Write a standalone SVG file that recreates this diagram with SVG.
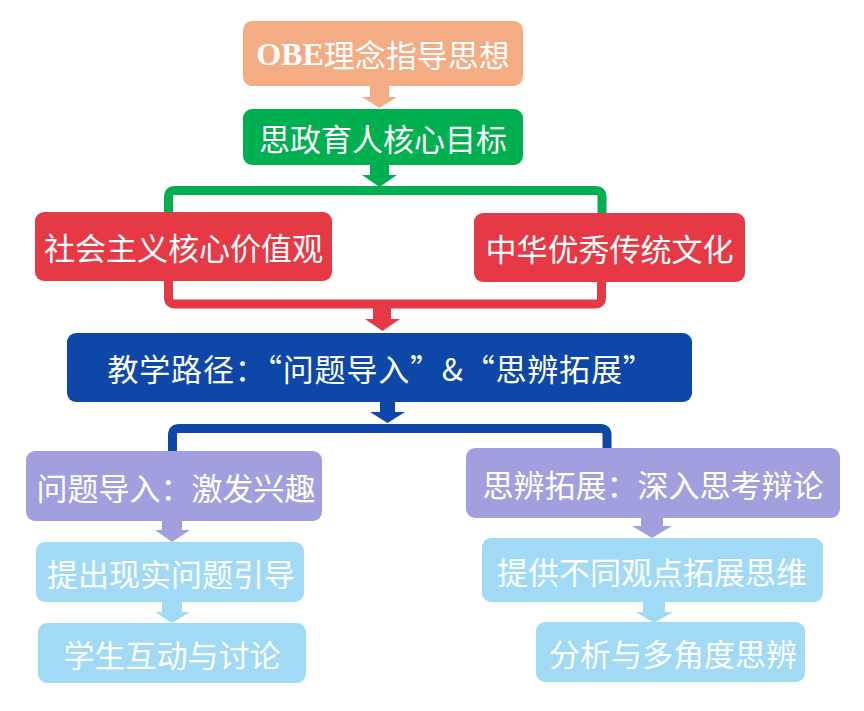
<svg xmlns="http://www.w3.org/2000/svg" width="864" height="711" viewBox="0 0 864 711">
<style>
text{font-family:"Noto Sans CJK SC","Liberation Sans",sans-serif;font-size:31px;fill:#fff;text-anchor:middle;dominant-baseline:central}
.br{fill:none;stroke-width:9;stroke-linejoin:round}
</style>
<rect width="864" height="711" fill="#fff"/>
<g id="connectors">
<polygon fill="#F4AC84" points="370,86 389,86 389,97 397,97 379.5,108 362,97 370,97"/>
<polygon fill="#00B050" points="370,165 389,165 389,175 397,175 379.5,187 362,175 370,175"/>
<path class="br" stroke="#00B050" d="M168.5,214 V197 Q168.5,190.5 175,190.5 H595.5 Q602,190.5 602,197 V214"/>
<path class="br" stroke="#E63946" d="M168.5,280 V297.5 Q168.5,304 175,304 H595 Q601.5,304 601.5,297.5 V282"/>
<polygon fill="#E63946" points="373,304 391,304 391,319 400,319 382.5,331 365,319 373,319"/>
<polygon fill="#0D47A8" points="380,401 395,401 395,412 405,412 387.5,423 370,412 380,412"/>
<path class="br" stroke="#0D47A8" d="M172.5,452 V435 Q172.5,428.5 179,428.5 H600.5 Q607,428.5 607,435 V449"/>
<polygon fill="#A29FDF" points="162,520 182,520 182,530 190,530 172,542 155,530 162,530"/>
<polygon fill="#A0DAF5" points="162,601 182,601 182,612 190,612 172,623 155,612 162,612"/>
<polygon fill="#A29FDF" points="641,517 663,517 663,526 672,526 652,538 632,526 641,526"/>
<polygon fill="#A0DAF5" points="643,601 665,601 665,612 673,612 654,623 636,612 643,612"/>
</g>
<g id="n-obe">
<rect x="243" y="21" width="280" height="65" rx="9" fill="#F4AC84"/>
<text x="383" y="53.5"><tspan font-family="Liberation Serif" font-weight="bold" font-size="32">OBE</tspan>理念指导思想</text>
</g>
<g id="n-goal">
<rect x="243" y="109" width="280" height="56" rx="9" fill="#00B050"/>
<text x="383" y="137">思政育人核心目标</text>
</g>
<g id="n-values">
<rect x="35" y="212" width="297" height="69" rx="9" fill="#E63946"/>
<text x="183.5" y="246.5">社会主义核心价值观</text>
</g>
<g id="n-culture">
<rect x="474" y="213" width="271" height="69" rx="9" fill="#E63946"/>
<text x="609.5" y="247.5">中华优秀传统文化</text>
</g>
<g id="n-path">
<rect x="67" y="333" width="625" height="69" rx="9" fill="#0D47A8"/>
<text x="381" y="367.5" letter-spacing="0.8">教学路径：“问题导入”&amp;“思辨拓展”</text>
</g>
<g id="n-intro">
<rect x="26" y="451" width="296" height="70" rx="9" fill="#A29FDF"/>
<text x="176" y="486">问题导入：激发兴趣</text>
</g>
<g id="n-q1">
<rect x="36" y="542" width="268" height="60" rx="9" fill="#A0DAF5"/>
<text x="171" y="572">提出现实问题引导</text>
</g>
<g id="n-q2">
<rect x="38" y="623" width="268" height="60" rx="9" fill="#A0DAF5"/>
<text x="172" y="653">学生互动与讨论</text>
</g>
<g id="n-expand">
<rect x="466" y="448" width="374" height="70" rx="9" fill="#A29FDF"/>
<text x="653" y="483">思辨拓展：深入思考辩论</text>
</g>
<g id="n-e1">
<rect x="482" y="538" width="341" height="64" rx="9" fill="#A0DAF5"/>
<text x="652" y="570">提供不同观点拓展思维</text>
</g>
<g id="n-e2">
<rect x="536" y="622" width="269" height="60" rx="9" fill="#A0DAF5"/>
<text x="673" y="652">分析与多角度思辨</text>
</g>
</svg>
